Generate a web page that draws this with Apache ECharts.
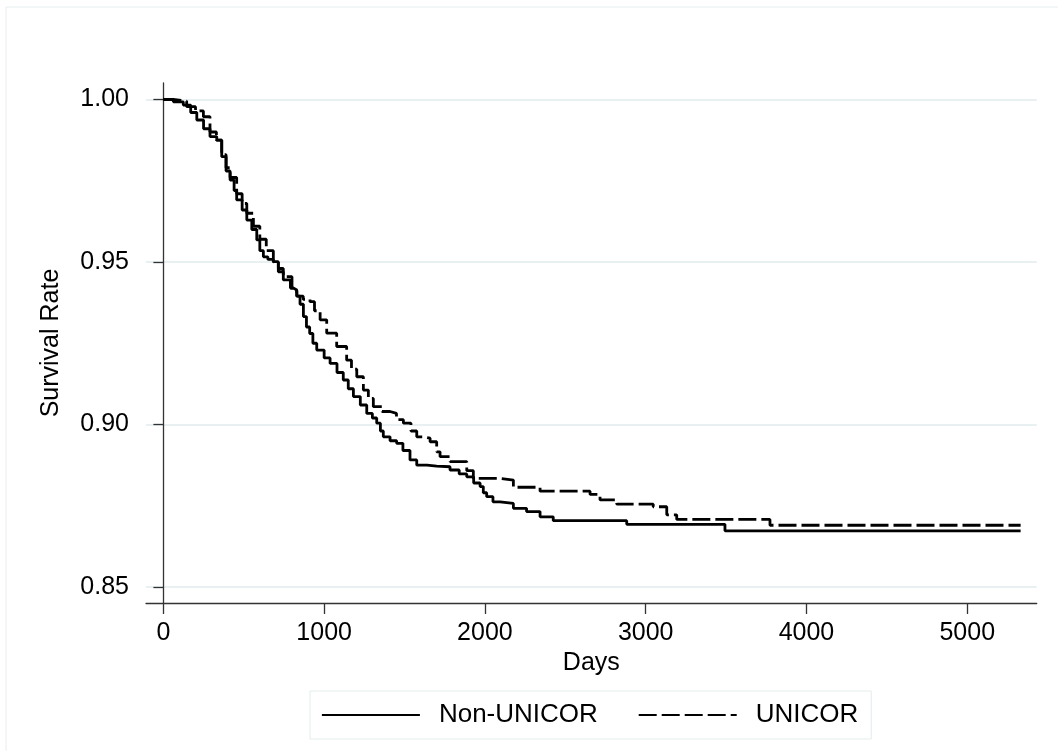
<!DOCTYPE html>
<html>
<head>
<meta charset="utf-8">
<script src="https://cdn.jsdelivr.net/npm/echarts@6/dist/echarts.min.js"></script>
<style>
  html, body { margin: 0; padding: 0; background: #fff; }
  #chart { width: 1058px; height: 751px; }
</style>
</head>
<body>
<div id="chart"></div>
<script>
// survival curves: [days, survival rate]
const nonUnicor = [
  [0, 1.000], [62, 0.9993], [124, 0.9983], [170, 0.996], [208, 0.9937], [250, 0.991],
  [290, 0.9886], [332, 0.9875], [363, 0.9824], [390, 0.978], [415, 0.9752], [440, 0.972],
  [456, 0.9691], [490, 0.966], [519, 0.9629], [550, 0.960], [581, 0.9568], [600, 0.9535],
  [622, 0.9516], [650, 0.9508], [684, 0.9501], [715, 0.947], [746, 0.9445], [790, 0.942],
  [808, 0.9414], [830, 0.9395], [850, 0.937], [871, 0.9332], [890, 0.930], [910, 0.928],
  [930, 0.925], [954, 0.9229], [1000, 0.9205], [1037, 0.9188], [1080, 0.916], [1119, 0.9137],
  [1150, 0.911], [1182, 0.9086], [1225, 0.906], [1265, 0.9034], [1300, 0.902], [1327, 0.9004],
  [1350, 0.898], [1368, 0.8962], [1410, 0.895], [1451, 0.8942], [1490, 0.892], [1534, 0.8891],
  [1576, 0.8875], [1640, 0.8872], [1700, 0.887], [1783, 0.886], [1840, 0.8848], [1887, 0.8839],
  [1930, 0.882], [1970, 0.8809], [1990, 0.879], [2011, 0.8778], [2050, 0.8762], [2094, 0.8757],
  [2177, 0.8742], [2259, 0.8732], [2343, 0.8716], [2425, 0.8704], [2882, 0.8693], [3493, 0.8673],
  [5332, 0.8673]
];
const unicor = [
  [0, 1.000], [60, 0.9995], [145, 0.9978], [200, 0.9965], [249, 0.9947], [290, 0.990],
  [330, 0.9875], [363, 0.983], [390, 0.979], [415, 0.976], [456, 0.971], [490, 0.968],
  [519, 0.965], [560, 0.961], [600, 0.957], [640, 0.9535], [684, 0.950], [715, 0.948],
  [746, 0.9455], [800, 0.941], [830, 0.9395], [870, 0.9385], [912, 0.9378], [940, 0.935],
  [975, 0.9322], [1016, 0.9281], [1078, 0.924], [1140, 0.9198], [1170, 0.917], [1203, 0.9147],
  [1244, 0.9106], [1275, 0.908], [1306, 0.9055], [1360, 0.904], [1410, 0.9034], [1450, 0.9015],
  [1493, 0.9004], [1540, 0.898], [1576, 0.8962], [1620, 0.8958], [1659, 0.8947], [1700, 0.8916],
  [1721, 0.8901], [1783, 0.8886], [1825, 0.8886], [1887, 0.8858], [1928, 0.8834], [2094, 0.8829],
  [2177, 0.8807], [2343, 0.8795], [2654, 0.8785], [2716, 0.8768], [2820, 0.8755], [3047, 0.8747],
  [3131, 0.8722], [3193, 0.8708], [3773, 0.869], [5332, 0.869]
];
const seriesNames = ['Non-UNICOR', 'UNICOR'];
const xTicks = [0, 1000, 2000, 3000, 4000, 5000];
const yTicks = [0.85, 0.90, 0.95, 1.00];

const font = '"Liberation Sans", Arial, sans-serif';
const chart = echarts.init(document.getElementById('chart'));

chart.setOption({
  backgroundColor: '#fff',
  animation: false,
  graphic: [{
    type: 'rect',
    shape: { x: 6, y: 7, width: 1200, height: 900 },
    style: { fill: 'none', stroke: '#e6eeef', lineWidth: 1 },
    silent: true
  }],
  grid: { left: 146, top: 83, width: 890.7, height: 520 },
  xAxis: {
    type: 'value',
    min: -108,
    max: 5432,
    name: 'Days',
    nameLocation: 'middle',
    nameGap: 44,
    nameTextStyle: { fontSize: 25, color: '#000', fontFamily: font },
    axisLine: { lineStyle: { color: '#333', width: 1.3 } },
    axisTick: { customValues: xTicks, length: 11, lineStyle: { color: '#333', width: 1.3 } },
    axisLabel: {
      customValues: xTicks, fontSize: 25, color: '#000', fontFamily: font, margin: 18,
      formatter: v => String(v)
    },
    splitLine: { show: false }
  },
  yAxis: {
    type: 'value',
    min: 0.84508,
    max: 1.00508,
    name: 'Survival Rate',
    nameLocation: 'middle',
    nameGap: 82,
    nameTextStyle: { fontSize: 25, color: '#000', fontFamily: font },
    axisLine: { show: true, lineStyle: { color: '#333', width: 1.3 } },
    axisTick: { show: true, customValues: yTicks, length: 10, lineStyle: { color: '#333', width: 1.3 } },
    axisLabel: {
      customValues: yTicks, fontSize: 25, color: '#000', fontFamily: font, margin: 17,
      formatter: v => v.toFixed(2)
    },
    splitLine: { show: true, lineStyle: { color: '#e8f0f1', width: 2 } }
  },
  legend: {
    left: 310,
    top: 691,
    itemWidth: 98,
    itemHeight: 26,
    itemGap: 40,
    padding: [11, 13, 11, 11],
    borderColor: '#e3ecee',
    borderWidth: 1,
    data: seriesNames,
    itemStyle: { opacity: 0 },
    lineStyle: { width: 1.8 },
    textStyle: { fontSize: 26, color: '#000', fontFamily: font, padding: [0, 0, 0, 14] }
  },
  series: [
    {
      name: seriesNames[0],
      type: 'line',
      step: 'end',
      symbol: 'none',
      data: nonUnicor,
      lineStyle: { color: '#000', width: 2.8 },
      itemStyle: { color: '#000' }
    },
    {
      name: seriesNames[1],
      type: 'line',
      step: 'end',
      symbol: 'none',
      data: unicor,
      lineStyle: { color: '#000', width: 2.8, type: [18, 5] },
      itemStyle: { color: '#000' }
    }
  ]
});
</script>
</body>
</html>
